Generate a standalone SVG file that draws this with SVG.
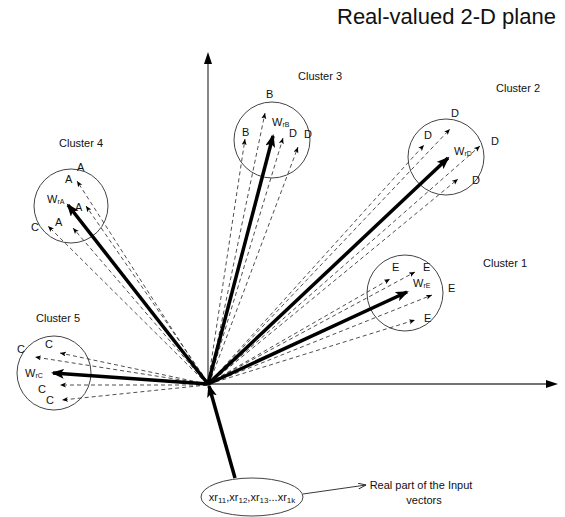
<svg xmlns="http://www.w3.org/2000/svg" width="565" height="517" viewBox="0 0 565 517">
<style>
text{font-family:"Liberation Sans",Arial,sans-serif;fill:#111}
.lbl{font-size:11px}
.sub{font-size:7px}
.circ{fill:none;stroke:#444;stroke-width:1}
.axis{stroke:#444;stroke-width:1.3;fill:none}
.thick{stroke:#000;stroke-width:3.5;fill:none}
.dash{stroke:#222;stroke-width:0.8;stroke-dasharray:4,3;fill:none}
</style>
<defs>
<marker id="ah" markerUnits="userSpaceOnUse" markerWidth="14" markerHeight="10" refX="11" refY="5" orient="auto">
<path d="M0,0 L13,5 L0,10 L3,5 z" fill="#000"/>
</marker>
<marker id="axh" markerUnits="userSpaceOnUse" markerWidth="14" markerHeight="10" refX="2" refY="4" orient="auto">
<path d="M0,0 L12,4 L0,8 z" fill="#000"/>
</marker>
<marker id="dh" markerUnits="userSpaceOnUse" markerWidth="7" markerHeight="6" refX="6" refY="2.5" orient="auto">
<path d="M0,0 L6,2.5 L0,5 L1.5,2.5 z" fill="#000"/>
</marker>
<marker id="lh" markerUnits="userSpaceOnUse" markerWidth="9" markerHeight="7" refX="8" refY="3" orient="auto">
<path d="M0,0 L8,3 L0,6" fill="none" stroke="#222" stroke-width="0.9"/>
</marker>
</defs>

<text x="337" y="24" style="font-size:22px">Real-valued 2-D plane</text>

<g id="axes">
<line class="axis" x1="208" y1="384" x2="208" y2="62" marker-end="url(#axh)"/>
<line class="axis" x1="208" y1="384" x2="548" y2="384" marker-end="url(#axh)"/>
</g>

<g id="cluster4">
<circle class="circ" cx="71" cy="206" r="37"/>
<text class="lbl" x="59" y="147">Cluster 4</text>
<text class="lbl" x="77" y="171">A</text>
<text class="lbl" x="65" y="183">A</text>
<text class="lbl" x="47" y="203">W<tspan class="sub" dy="1">rA</tspan></text>
<text class="lbl" x="75" y="211">A</text>
<text class="lbl" x="55" y="226">A</text>
<text class="lbl" x="31" y="231">C</text>
</g>

<g id="cluster3">
<circle class="circ" cx="272" cy="140" r="38"/>
<text class="lbl" x="298" y="80">Cluster 3</text>
<text class="lbl" x="266" y="98">B</text>
<text class="lbl" x="242" y="136">B</text>
<text class="lbl" x="272" y="126">W<tspan class="sub" dy="1">rB</tspan></text>
<text class="lbl" x="289" y="137">D</text>
<text class="lbl" x="304" y="138">D</text>
</g>

<g id="cluster2">
<circle class="circ" cx="446" cy="157" r="38"/>
<text class="lbl" x="496" y="92">Cluster 2</text>
<text class="lbl" x="451" y="117">D</text>
<text class="lbl" x="424" y="139">D</text>
<text class="lbl" x="454" y="155">W<tspan class="sub" dy="1">rD</tspan></text>
<text class="lbl" x="491" y="145">D</text>
<text class="lbl" x="472" y="184">D</text>
</g>

<g id="cluster1">
<circle class="circ" cx="405" cy="293" r="38"/>
<text class="lbl" x="483" y="267">Cluster 1</text>
<text class="lbl" x="392" y="271">E</text>
<text class="lbl" x="423" y="271">E</text>
<text class="lbl" x="413" y="287">W<tspan class="sub" dy="1">rE</tspan></text>
<text class="lbl" x="448" y="292">E</text>
<text class="lbl" x="424" y="322">E</text>
</g>

<g id="cluster5">
<circle class="circ" cx="54" cy="373" r="37"/>
<text class="lbl" x="36" y="322">Cluster 5</text>
<text class="lbl" x="17" y="353">C</text>
<text class="lbl" x="45" y="348">C</text>
<text class="lbl" x="25" y="377">W<tspan class="sub" dy="1">rC</tspan></text>
<text class="lbl" x="38" y="393">C</text>
<text class="lbl" x="46" y="404">C</text>
</g>

<g id="input">
<ellipse class="circ" cx="252" cy="497" rx="51" ry="19"/>
<text x="252" y="501" text-anchor="middle" style="font-size:11px">xr<tspan style="font-size:8px" dy="2">11</tspan><tspan dy="-2">,xr</tspan><tspan style="font-size:8px" dy="2">12</tspan><tspan dy="-2">,xr</tspan><tspan style="font-size:8px" dy="2">13</tspan><tspan dy="-2">...xr</tspan><tspan style="font-size:8px" dy="2">1k</tspan></text>
</g>

<g id="note">
<text class="lbl" x="421" y="489" text-anchor="middle">Real part of the Input</text>
<text class="lbl" x="424" y="504" text-anchor="middle">vectors</text>
</g>

<g id="connectors">
<line class="dash" x1="206" y1="382" x2="77" y2="181" marker-end="url(#dh)"/>
<line class="dash" x1="207" y1="381" x2="86" y2="206" marker-end="url(#dh)"/>
<line class="dash" x1="207" y1="384" x2="48" y2="226" marker-end="url(#dh)"/>
<line class="dash" x1="207" y1="384" x2="73" y2="228" marker-end="url(#dh)"/>
<line class="dash" x1="209" y1="383" x2="265" y2="113" marker-end="url(#dh)"/>
<line class="dash" x1="208" y1="383" x2="245" y2="139" marker-end="url(#dh)"/>
<line class="dash" x1="209" y1="383" x2="283" y2="138" marker-end="url(#dh)"/>
<line class="dash" x1="209" y1="384" x2="298" y2="147" marker-end="url(#dh)"/>
<line class="dash" x1="209" y1="383" x2="450" y2="129" marker-end="url(#dh)"/>
<line class="dash" x1="209" y1="383" x2="424" y2="145" marker-end="url(#dh)"/>
<line class="dash" x1="209" y1="384" x2="480" y2="146" marker-end="url(#dh)"/>
<line class="dash" x1="209" y1="384" x2="458" y2="179" marker-end="url(#dh)"/>
<line class="dash" x1="209" y1="383" x2="390" y2="279" marker-end="url(#dh)"/>
<line class="dash" x1="209" y1="383" x2="415" y2="272" marker-end="url(#dh)"/>
<line class="dash" x1="209" y1="384" x2="432" y2="295" marker-end="url(#dh)"/>
<line class="dash" x1="209" y1="384" x2="415" y2="320" marker-end="url(#dh)"/>
<line class="dash" x1="207" y1="384" x2="60" y2="353" marker-end="url(#dh)"/>
<line class="dash" x1="207" y1="384" x2="35" y2="357" marker-end="url(#dh)"/>
<line class="dash" x1="207" y1="385" x2="60" y2="385" marker-end="url(#dh)"/>
<line class="dash" x1="207" y1="385" x2="62" y2="400" marker-end="url(#dh)"/>
<line class="thick" x1="208" y1="384" x2="68" y2="205" marker-end="url(#ah)"/>
<line class="thick" x1="208" y1="384" x2="273" y2="136" marker-end="url(#ah)"/>
<line class="thick" x1="208" y1="384" x2="448" y2="158" marker-end="url(#ah)"/>
<line class="thick" x1="208" y1="384" x2="407" y2="292" marker-end="url(#ah)"/>
<line class="thick" x1="208" y1="384" x2="53" y2="373" marker-end="url(#ah)"/>
<line class="thick" x1="235" y1="478" x2="209" y2="386" marker-end="url(#ah)"/>
<line x1="303" y1="494" x2="366" y2="485" stroke="#222" stroke-width="0.9" marker-end="url(#lh)"/>
</g>
</svg>
